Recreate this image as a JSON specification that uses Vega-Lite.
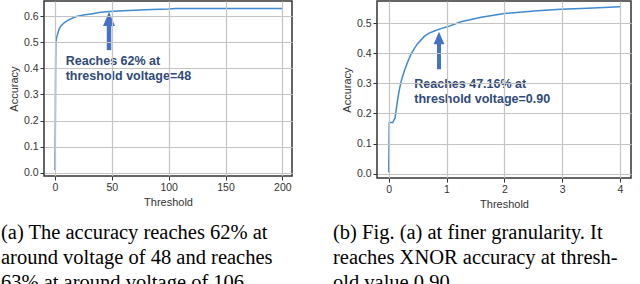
{
  "$schema": "https://vega.github.io/schema/vega-lite/v6.json",
  "padding": {"left": 0, "top": 0, "right": 0, "bottom": 0},
  "background": "white",
  "spacing": 39,
  "config": {
    "view": {"stroke": "#333333", "strokeWidth": 1.5},
    "axis": {
      "labelFont": "Liberation Sans", "labelFontSize": 10.5, "labelColor": "#333333",
      "titleFont": "Liberation Sans", "titleFontSize": 11, "titleFontWeight": "normal", "titleColor": "#333333",
      "tickColor": "#333333", "tickSize": 4, "domain": false,
      "labelPadding": 2, "titlePadding": 4
    }
  },
  "datasets": {
    "a": [
      {"x": 0, "y": 0.01}, {"x": 0.3, "y": 0.2}, {"x": 0.5, "y": 0.4}, {"x": 0.7, "y": 0.5},
      {"x": 1.5, "y": 0.52}, {"x": 3.5, "y": 0.55}, {"x": 5, "y": 0.562}, {"x": 8, "y": 0.575},
      {"x": 12, "y": 0.586}, {"x": 18, "y": 0.598}, {"x": 25, "y": 0.605}, {"x": 33, "y": 0.61},
      {"x": 40, "y": 0.615}, {"x": 48, "y": 0.618}, {"x": 60, "y": 0.621}, {"x": 70, "y": 0.623},
      {"x": 85, "y": 0.626}, {"x": 100, "y": 0.628}, {"x": 106, "y": 0.63}, {"x": 150, "y": 0.63},
      {"x": 200, "y": 0.63}
    ],
    "b": [
      {"x": 0, "y": 0.005}, {"x": 0.01, "y": 0.17}, {"x": 0.07, "y": 0.17}, {"x": 0.11, "y": 0.186},
      {"x": 0.15, "y": 0.24}, {"x": 0.18, "y": 0.275}, {"x": 0.22, "y": 0.31}, {"x": 0.27, "y": 0.341},
      {"x": 0.33, "y": 0.372}, {"x": 0.386, "y": 0.397}, {"x": 0.45, "y": 0.418}, {"x": 0.5, "y": 0.432},
      {"x": 0.62, "y": 0.457}, {"x": 0.7, "y": 0.467}, {"x": 0.79, "y": 0.474}, {"x": 0.9, "y": 0.482},
      {"x": 1.0, "y": 0.487}, {"x": 1.25, "y": 0.505}, {"x": 1.6, "y": 0.52}, {"x": 2.0, "y": 0.532},
      {"x": 2.57, "y": 0.541}, {"x": 2.98, "y": 0.546}, {"x": 3.44, "y": 0.55}, {"x": 4.0, "y": 0.555}
    ],
    "annA": [{"x": 47.5, "y": 0.47, "y2": 0.566, "hy": 0.563, "tx": 9.4, "ty": 0.413, "t": ["Reaches 62% at", "threshold voltage=48"]}],
    "annB": [{"x": 0.87, "y": 0.347, "y2": 0.433, "hy": 0.43, "tx": 0.443, "ty": 0.286, "t": ["Reaches 47.16% at", "threshold voltage=0.90"]}]
  },
  "hconcat": [
    {
      "width": 248, "height": 175,
      "title": {
        "text": ["(a) The accuracy reaches 62% at", "around voltage of 48 and reaches", "63% at around voltage of 106."],
        "orient": "bottom", "anchor": "start", "frame": "group", "dx": -43, "offset": 15,
        "font": "Liberation Serif", "fontSize": 20.5, "fontWeight": "normal", "lineHeight": 25, "color": "black", "baseline": "top"
      },
      "encoding": {
        "x": {"type": "quantitative", "title": "Threshold",
              "scale": {"domain": [-9.7, 208.5], "nice": false, "zero": false},
              "axis": {"values": [0, 50, 100, 150, 200], "format": "d", "grid": true, "gridColor": "#C4C4C4", "gridWidth": 1.2, "gridOpacity": 1, "labelOverlap": false, "zindex": 1}},
        "y": {"type": "quantitative", "title": "Accuracy",
              "scale": {"domain": [-0.0127, 0.6586], "nice": false, "zero": false},
              "axis": {"values": [0, 0.1, 0.2, 0.3, 0.4, 0.5, 0.6], "format": ".1f", "grid": true, "gridColor": "#C4C4C4", "gridWidth": 1.2, "gridOpacity": 1, "labelOverlap": false, "zindex": 1}}
      },
      "layer": [
        {
          "data": {"name": "a"},
          "mark": {"type": "line", "color": "#3F8AD0", "strokeWidth": 1.5, "clip": true},
          "encoding": {"x": {"field": "x"}, "y": {"field": "y"}}
        },
        {
          "data": {"name": "annA"},
          "mark": {"type": "rule", "color": "#4472C4", "strokeWidth": 4.5},
          "encoding": {"x": {"field": "x"}, "y": {"field": "y"}, "y2": {"field": "y2"}}
        },
        {
          "data": {"name": "annA"},
          "mark": {"type": "point", "shape": "M-1,0L1,0L0,-2.3Z", "filled": true, "color": "#4472C4", "opacity": 1, "size": 144},
          "encoding": {"x": {"field": "x"}, "y": {"field": "hy"}}
        },
        {
          "data": {"name": "annA"},
          "mark": {"type": "text", "align": "left", "baseline": "alphabetic", "font": "Liberation Sans", "fontWeight": "bold", "fontSize": 12.5, "color": "#2F4A7A", "lineHeight": 15},
          "encoding": {"x": {"field": "tx"}, "y": {"field": "ty"}, "text": {"field": "t"}}
        }
      ]
    },
    {
      "width": 254, "height": 177,
      "title": {
        "text": ["(b) Fig. (a) at finer granularity. It", "reaches XNOR accuracy at thresh-", "old value 0.90."],
        "orient": "bottom", "anchor": "start", "frame": "group", "dx": -44, "offset": 13,
        "font": "Liberation Serif", "fontSize": 20.5, "fontWeight": "normal", "lineHeight": 25, "color": "black", "baseline": "top"
      },
      "encoding": {
        "x": {"type": "quantitative", "title": "Threshold",
              "scale": {"domain": [-0.202, 4.19], "nice": false, "zero": false},
              "axis": {"values": [0, 1, 2, 3, 4], "format": "d", "grid": true, "gridColor": "#C4C4C4", "gridWidth": 1.2, "gridOpacity": 1, "labelOverlap": false, "zindex": 1}},
        "y": {"type": "quantitative", "title": "Accuracy",
              "scale": {"domain": [-0.0143, 0.5737], "nice": false, "zero": false},
              "axis": {"values": [0, 0.1, 0.2, 0.3, 0.4, 0.5], "format": ".1f", "grid": true, "gridColor": "#C4C4C4", "gridWidth": 1.2, "gridOpacity": 1, "labelOverlap": false, "zindex": 1}}
      },
      "layer": [
        {
          "data": {"name": "b"},
          "mark": {"type": "line", "color": "#3F8AD0", "strokeWidth": 1.5, "clip": true},
          "encoding": {"x": {"field": "x"}, "y": {"field": "y"}}
        },
        {
          "data": {"name": "annB"},
          "mark": {"type": "rule", "color": "#4472C4", "strokeWidth": 4},
          "encoding": {"x": {"field": "x"}, "y": {"field": "y"}, "y2": {"field": "y2"}}
        },
        {
          "data": {"name": "annB"},
          "mark": {"type": "point", "shape": "M-1,0L1,0L0,-2.3Z", "filled": true, "color": "#4472C4", "opacity": 1, "size": 117},
          "encoding": {"x": {"field": "x"}, "y": {"field": "hy"}}
        },
        {
          "data": {"name": "annB"},
          "mark": {"type": "text", "align": "left", "baseline": "alphabetic", "font": "Liberation Sans", "fontWeight": "bold", "fontSize": 12.5, "color": "#2F4A7A", "lineHeight": 15},
          "encoding": {"x": {"field": "tx"}, "y": {"field": "ty"}, "text": {"field": "t"}}
        }
      ]
    }
  ]
}
